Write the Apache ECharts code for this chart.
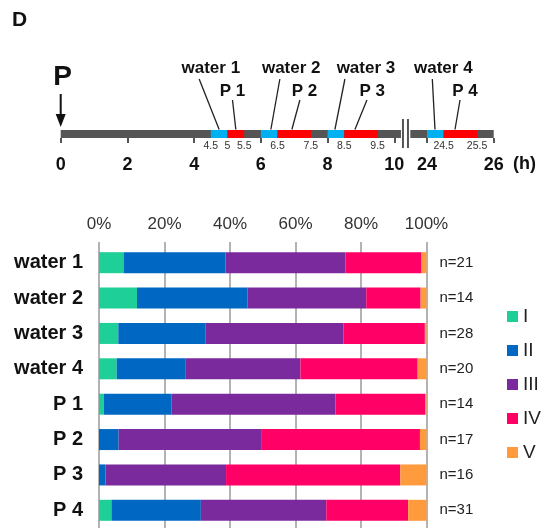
<!DOCTYPE html>
<html><head><meta charset="utf-8">
<script src="https://cdn.jsdelivr.net/npm/echarts@6/dist/echarts.min.js"></script>
<style>html,body{margin:0;padding:0;background:#fff}#c{width:547px;height:528px}</style>
</head><body><div id="c"></div>
<script>
// ---- stacked bar data ----
const categories = ['water 1','water 2','water 3','water 4','P 1','P 2','P 3','P 4'];
const classNames = ['I','II','III','IV','V'];
const valI   = [7.5, 11.6, 5.9, 5.4, 1.5, 0, 0, 3.8];
const valII  = [31.1, 33.7, 26.7, 21.1, 20.7, 6.0, 2.0, 27.3];
const valIII = [36.7, 36.3, 42.0, 35.0, 50.0, 43.5, 36.8, 38.3];
const valIV  = [23.2, 16.6, 24.9, 35.8, 27.5, 48.5, 53.2, 25.0];
const valV   = [1.5, 1.8, 0.5, 2.7, 0.3, 2.0, 8.0, 5.6];
const nCounts = [21, 14, 28, 20, 14, 17, 16, 31];
const pctTicks = [0, 20, 40, 60, 80, 100];

// ---- timeline data (hours) ----
const baseSegments = [[0, 10.2], [23.5, 26]];
const waterWindows = [[4.5, 5], [6, 6.5], [8, 8.5], [24, 24.5]];
const pWindows = [[5, 5.5], [6.5, 7.5], [8.5, 9.5], [24.5, 25.5]];
const breakMarks = [10.26, 23.43];
const hourTicks = [0, 2, 4, 6, 8, 10, 24, 26];
const minorLabels = [4.5, 5, 5.5, 6.5, 7.5, 8.5, 9.5, 24.5, 25.5];
const waterNames = ['water 1','water 2','water 3','water 4'];
const pNames = ['P 1','P 2','P 3','P 4'];
const waterAnchor = [4.75, 6.3, 8.22, 24.24];
const waterLineTop = [4.15, 6.57, 8.52, 24.16];
const waterLabelX = [4.5, 6.91, 9.15, 24.49];
const pAnchor = [5.25, 6.93, 8.82, 24.84];
const pLineTop = [5.15, 7.17, 9.18, 24.99];
const pLabelX = [5.15, 7.31, 9.34, 25.14];

// broken time axis: hours after the break are shifted left
const BREAK_SHIFT = 13.02;
function disp(h) { return h <= 12 ? h : h - BREAK_SHIFT; }
function undisp(d) { return d <= 10.5 ? d : d + BREAK_SHIFT; }

const FONT = 'Liberation Sans, Arial, sans-serif';
const barColors = ['#1ecf98', '#0068c2', '#7b2a9d', '#ff0066', '#ff9b3d'];
const segColors = ['#555555', '#00b0f0', '#ff0000'];
const BAR_H = 8; // units of timeline y axis

const segData = [];
baseSegments.forEach(s => segData.push([disp(s[0]), disp(s[1]), 0]));
waterWindows.forEach(s => segData.push([disp(s[0]), disp(s[1]), 1]));
pWindows.forEach(s => segData.push([disp(s[0]), disp(s[1]), 2]));

const calloutData = [];
const calloutNames = [];
waterNames.forEach((n, i) => { calloutData.push([disp(waterAnchor[i]), disp(waterLineTop[i]), disp(waterLabelX[i]), 1]); calloutNames.push(n); });
pNames.forEach((n, i) => { calloutData.push([disp(pAnchor[i]), disp(pLineTop[i]), disp(pLabelX[i]), 2]); calloutNames.push(n); });

const chart = echarts.init(document.getElementById('c'));
const valueSeries = [valI, valII, valIII, valIV, valV];

const barSeries = valueSeries.map((vals, k) => ({
  name: classNames[k], type: 'bar', stack: 'total', xAxisIndex: 0, yAxisIndex: 0,
  barWidth: 21, data: vals, itemStyle: { color: barColors[k] }, silent: true,
  label: k === 4 ? {
    show: true, position: 'right', distance: 13, color: '#222', fontSize: 15, fontFamily: FONT,
    formatter: p => 'n=' + nCounts[p.dataIndex]
  } : { show: false }
}));

const option = {
  animation: false,
  grid: [
    { left: 99, top: 245, width: 327.5, height: 283 },
    { left: 60.7, top: 60, width: 433, height: 78 }
  ],
  legend: {
    data: classNames, orient: 'vertical', left: 502, top: 302, itemWidth: 11, itemHeight: 11,
    itemGap: 15, icon: 'rect', selectedMode: false,
    textStyle: { fontSize: 19, color: '#222', fontFamily: FONT }
  },
  xAxis: [
    {
      gridIndex: 0, type: 'value', position: 'top', min: 0, max: 100, interval: 20,
      axisLine: { show: false },
      axisTick: { show: true, length: 3, lineStyle: { color: '#9a9a9a', width: 1.5 } },
      splitLine: { show: true, lineStyle: { color: '#9a9a9a', width: 1.5 } },
      axisLabel: { margin: 12, fontSize: 17, color: '#333', fontFamily: FONT, formatter: '{value}%' }
    },
    {
      gridIndex: 1, type: 'value', position: 'bottom', min: 0, max: disp(26),
      axisLine: { show: false }, splitLine: { show: false },
      axisTick: { show: true, length: 5, customValues: hourTicks.map(disp), lineStyle: { color: '#555', width: 2 } },
      axisLabel: { customValues: hourTicks.map(disp), margin: 18, fontSize: 18, fontWeight: 'bold', color: '#111', fontFamily: FONT,
        formatter: v => String(Math.round(undisp(v) * 10) / 10) }
    },
    {
      gridIndex: 1, type: 'value', position: 'bottom', min: 0, max: disp(26),
      axisLine: { show: false }, splitLine: { show: false }, axisTick: { show: false },
      axisLabel: { customValues: minorLabels.map(disp), margin: 3, fontSize: 10.5, color: '#333', fontFamily: FONT,
        formatter: v => String(Math.round(undisp(v) * 10) / 10) }
    }
  ],
  yAxis: [
    {
      gridIndex: 0, type: 'category', data: categories, inverse: true,
      axisLine: { show: false }, axisTick: { show: false }, splitLine: { show: false },
      axisLabel: { margin: 16, fontSize: 20, fontWeight: 'bold', color: '#111', fontFamily: FONT }
    },
    { gridIndex: 1, type: 'value', min: 0, max: 78, show: false }
  ],
  graphic: [
    { type: 'text', left: 12, top: 10, style: { text: 'D', font: 'bold 21px ' + FONT, fill: '#111' } },
    { type: 'text', left: 513, top: 155, style: { text: '(h)', font: 'bold 18px ' + FONT, fill: '#111' } }
  ],
  series: barSeries.concat([
    {
      type: 'custom', xAxisIndex: 1, yAxisIndex: 1, silent: true, data: segData,
      encode: { x: [0, 1] },
      renderItem: (params, api) => {
        const a = api.coord([api.value(0), 0]);
        const b = api.coord([api.value(1), BAR_H]);
        return { type: 'rect', shape: { x: a[0], y: b[1], width: b[0] - a[0], height: a[1] - b[1] },
          style: { fill: segColors[api.value(2)] } };
      }
    },
    {
      type: 'custom', xAxisIndex: 1, yAxisIndex: 1, silent: true, data: breakMarks.map(h => [disp(h)]),
      encode: { x: 0 },
      renderItem: (params, api) => {
        const a = api.coord([api.value(0), 19]);
        const b = api.coord([api.value(0), -10]);
        return { type: 'line', shape: { x1: a[0], y1: a[1], x2: b[0], y2: b[1] },
          style: { stroke: '#555', lineWidth: 2 } };
      }
    },
    {
      type: 'custom', xAxisIndex: 1, yAxisIndex: 1, silent: true, data: calloutData,
      encode: { x: [0, 1, 2] },
      renderItem: (params, api) => {
        const lvl = api.value(3);
        const topY = lvl === 1 ? 59 : 38;
        const labY = lvl === 1 ? 70 : 47;
        const a = api.coord([api.value(0), BAR_H + 0.5]);
        const t = api.coord([api.value(1), topY]);
        const l = api.coord([api.value(2), labY]);
        return { type: 'group', children: [
          { type: 'line', shape: { x1: t[0], y1: t[1], x2: a[0], y2: a[1] }, style: { stroke: '#222', lineWidth: 1.3 } },
          { type: 'text', style: { text: calloutNames[params.dataIndex], x: l[0], y: l[1], align: 'center', verticalAlign: 'middle',
              fontSize: 17, fontWeight: 'bold', fontFamily: FONT, fill: '#111' } }
        ] };
      }
    },
    {
      type: 'custom', xAxisIndex: 1, yAxisIndex: 1, silent: true, data: [[disp(0)]],
      encode: { x: 0 },
      renderItem: (params, api) => {
        const top = api.coord([api.value(0), 44]);
        const tip = api.coord([api.value(0), 11]);
        const lab = api.coord([api.value(0), 61]);
        return { type: 'group', children: [
          { type: 'line', shape: { x1: top[0], y1: top[1], x2: tip[0], y2: tip[1] - 10 }, style: { stroke: '#111', lineWidth: 2 } },
          { type: 'polygon', shape: { points: [[tip[0] - 5, tip[1] - 13], [tip[0] + 5, tip[1] - 13], [tip[0], tip[1]]] }, style: { fill: '#111' } },
          { type: 'text', style: { text: 'P', x: lab[0] + 2, y: lab[1], align: 'center', verticalAlign: 'middle',
              fontSize: 28, fontWeight: 'bold', fontFamily: FONT, fill: '#111' } }
        ] };
      }
    }
  ])
};
chart.setOption(option);
</script></body></html>
